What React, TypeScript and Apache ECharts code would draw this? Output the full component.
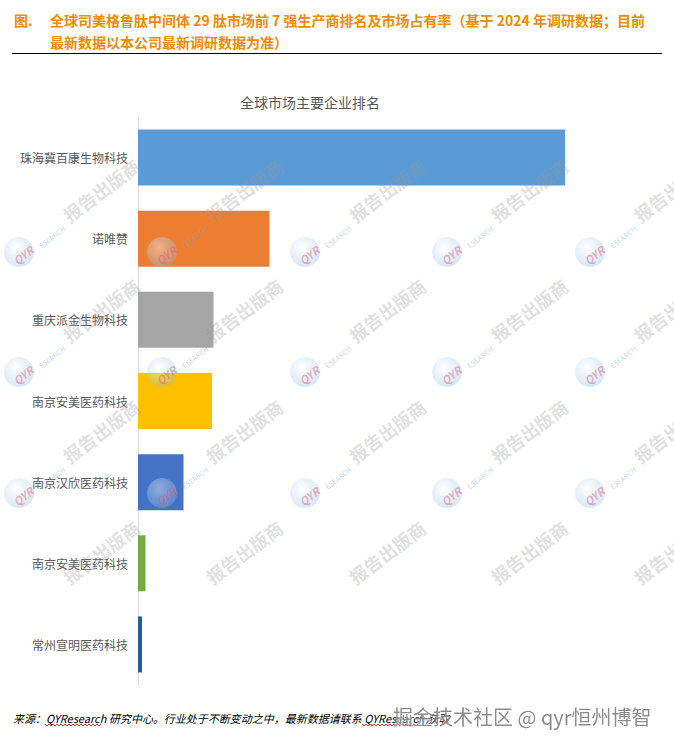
import React, { useEffect, useRef } from "react";
import * as echarts from "echarts";

const categories = [
  "珠海冀百康生物科技",
  "诺唯赞",
  "重庆派金生物科技",
  "南京安美医药科技",
  "南京汉欣医药科技",
  "南京安美医药科技",
  "常州宣明医药科技",
];
const shares = [42.7, 13.15, 7.55, 7.4, 4.55, 0.75, 0.4];
const barColors = ["#5B9BD5", "#ED7D31", "#A5A5A5", "#FFC000", "#4472C4", "#70AD47", "#255E91"];

const headerLine1 = "全球司美格鲁肽中间体 29 肽市场前 7 强生产商排名及市场占有率（基于 2024 年调研数据；目前";
const headerLine2 = "最新数据以本公司最新调研数据为准）";
const chartTitle = "全球市场主要企业排名";
const sourceText = "来源：QYResearch 研究中心。行业处于不断变动之中，最新数据请联系 QYResearch 获取";
const stampText = "掘金技术社区 @ qyr恒州博智";

const FONT = "'Noto Sans CJK SC', 'Noto Sans', sans-serif";
const DEG = Math.PI / 180;

function wavy(x0: number, x1: number, y: number) {
  const pts: number[][] = [];
  let up = true;
  for (let x = x0; x <= x1; x += 2) {
    pts.push([x, up ? y - 1 : y + 1]);
    up = !up;
  }
  return {
    type: "polyline",
    shape: { points: pts },
    style: { stroke: "#E03030", lineWidth: 1, fill: null },
    z: 50,
  };
}

function watermarks() {
  const els: any[] = [];
  const xs = [19, 162, 305, 447, 590];
  const ys = [252, 372, 493, 614];
  ys.forEach((ly, ri) => {
    xs.forEach((lx) => {
      els.push({
        type: "text",
        x: lx + 82,
        y: ly - 62,
        rotation: 37 * DEG,
        style: {
          text: "报告出版商",
          font: `bold 18px ${FONT}`,
          fill: "rgba(150,150,150,0.30)",
          align: "center",
          verticalAlign: "middle",
        },
        z: 100,
        silent: true,
      });
      if (ri < 3) {
        els.push({
          type: "circle",
          shape: { cx: lx, cy: ly, r: 15 },
          style: {
            fill: new echarts.graphic.RadialGradient(0.4, 0.35, 0.75, [
              { offset: 0, color: "rgba(255,255,255,0.4)" },
              { offset: 1, color: "rgba(120,175,225,0.32)" },
            ]),
          },
          z: 100,
          silent: true,
        });
        els.push({
          type: "text",
          x: lx + 4,
          y: ly + 3,
          rotation: 38 * DEG,
          style: {
            text: "QYR",
            font: `bold italic 11px ${FONT}`,
            fill: "rgba(225,90,110,0.45)",
            align: "center",
            verticalAlign: "middle",
          },
          z: 101,
          silent: true,
        });
        els.push({
          type: "text",
          x: lx + 33,
          y: ly - 15,
          rotation: 38 * DEG,
          style: {
            text: "ESEARCH",
            font: `7px ${FONT}`,
            fill: "rgba(110,160,220,0.45)",
            align: "center",
            verticalAlign: "middle",
          },
          z: 101,
          silent: true,
        });
      }
    });
  });
  return els;
}

export default function App() {
  const ref = useRef<HTMLDivElement>(null);
  useEffect(() => {
    if (!ref.current) return;
    const chart = echarts.init(ref.current, undefined, { renderer: "svg" });
    chart.setOption({
      animation: false,
      backgroundColor: "#ffffff",
      title: {
        text: chartTitle,
        left: 305,
        top: 90,
        textAlign: "center",
        textStyle: { fontSize: 14, fontWeight: "normal", color: "#595959", fontFamily: FONT },
      },
      grid: { left: 138, right: 36, top: 117, bottom: 62, containLabel: false },
      xAxis: { type: "value", min: 0, max: 50, show: false },
      yAxis: {
        type: "category",
        inverse: true,
        data: categories,
        axisLine: { show: true, lineStyle: { color: "#D9D9D9", width: 1 } },
        axisTick: { show: false },
        splitLine: { show: false },
        axisLabel: { margin: 10, fontSize: 12, color: "#595959", fontFamily: FONT },
      },
      series: [
        {
          type: "bar",
          barCategoryGap: "31%",
          data: shares.map((v, i) => ({ value: v, itemStyle: { color: barColors[i] } })),
          z: 2,
        },
      ],
      graphic: {
        elements: [
          {
            type: "text",
            x: 14,
            y: 20,
            style: { text: "图.", font: `bold 14px ${FONT}`, fill: "#EE8C00", verticalAlign: "middle" },
          },
          {
            type: "text",
            x: 50,
            y: 20,
            style: { text: headerLine1, font: `bold 14px ${FONT}`, fill: "#EE8C00", verticalAlign: "middle" },
          },
          {
            type: "text",
            x: 50,
            y: 42,
            style: { text: headerLine2, font: `bold 14px ${FONT}`, fill: "#EE8C00", verticalAlign: "middle" },
          },
          {
            type: "line",
            shape: { x1: 12, y1: 53.5, x2: 662, y2: 53.5 },
            style: { stroke: "#000000", lineWidth: 1 },
          },
          ...watermarks(),
          {
            type: "text",
            x: 13,
            y: 718,
            style: { text: sourceText, font: `italic 11px ${FONT}`, fill: "#000000", verticalAlign: "middle" },
            z: 40,
          },
          wavy(45, 101, 725),
          wavy(362, 418, 725),
          {
            type: "text",
            x: 393,
            y: 716,
            style: {
              text: stampText,
              font: `20px ${FONT}`,
              fill: "#8A8A8A",
              verticalAlign: "middle",
              textShadowColor: "rgba(255,255,255,0.95)",
              textShadowBlur: 2,
              textShadowOffsetX: 1,
              textShadowOffsetY: 1,
            },
            z: 120,
          },
        ],
      },
    });
    return () => chart.dispose();
  }, []);
  return (
    <div
      ref={ref}
      style={{ position: "absolute", left: 0, top: 0, width: 674, height: 747 }}
    />
  );
}
